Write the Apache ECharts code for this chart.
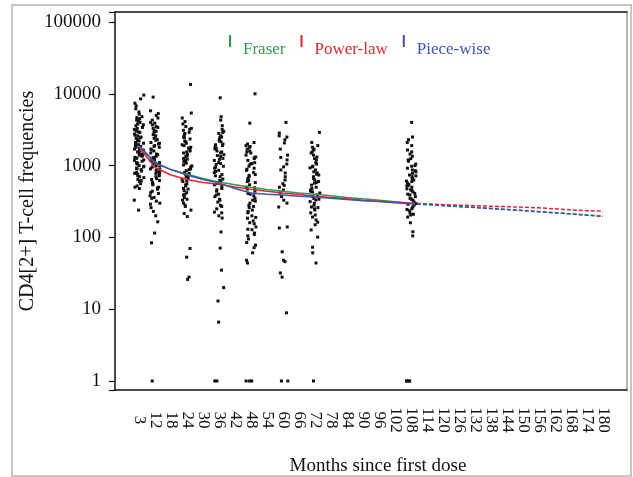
<!DOCTYPE html>
<html>
<head>
<meta charset="utf-8">
<script src="https://cdn.jsdelivr.net/npm/echarts@6/dist/echarts.min.js"></script>
<style>
  html, body { margin: 0; padding: 0; background: #fff; }
  #chart { width: 633px; height: 477px; }
</style>
</head>
<body>
<div id="chart"></div>
<script>
// x categories (months since first dose)
var months = ['3', '12', '18', '24', '30', '36', '42', '48', '54', '60', '66', '72', '78', '84', '90',
  '96', '102', '108', '114', '120', '126', '132', '138', '144', '150', '156', '162', '168', '174', '180'];
var fitMonths = months.slice(0, 18);   // 3 .. 108, solid
var projMonths = months.slice(17);     // 108 .. 180, dashed

// observed CD4[2+] frequencies per visit
var m3 = [9600, 8500, 7400, 6800, 6200, 5600, 5200, 4800, 4650, 4500, 4300, 4150, 4000, 3800, 3700, 3600, 3400,
  3300, 3200, 3050, 2950, 2900, 2750, 2650, 2600, 2500, 2450, 2400, 2300, 2250, 2200, 2100, 2050, 2000, 1950,
  1900, 1850, 1800, 1750, 1700, 1650, 1620, 1600, 1550, 1500, 1480, 1450, 1400, 1380, 1350, 1300, 1280, 1250,
  1200, 1180, 1150, 1100, 1080, 1050, 1000, 980, 960, 920, 900, 880, 840, 800, 780, 760, 720, 700, 680, 640,
  620, 600, 560, 520, 500, 480, 330, 240];
var m12 = [9000, 5800, 5300, 5000, 4600, 4300, 4000, 3900, 3700, 3500, 3400, 3300, 3100, 3000, 2900, 2700, 2600,
  2550, 2400, 2300, 2250, 2100, 2050, 2000, 1900, 1850, 1800, 1700, 1650, 1600, 1500, 1450, 1420, 1350, 1300,
  1280, 1200, 1180, 1150, 1100, 1080, 1050, 1000, 980, 950, 900, 880, 860, 820, 800, 780, 740, 720, 700, 660,
  640, 620, 580, 560, 540, 500, 490, 470, 440, 420, 410, 380, 360, 350, 320, 300, 290, 260, 230, 200, 165, 115,
  84, 1];
var m24 = [13500, 5400, 4600, 4100, 3800, 3500, 3300, 3200, 3100, 2900, 2800, 2700, 2500, 2450, 2350, 2200, 2150,
  2050, 1950, 1900, 1800, 1750, 1700, 1600, 1550, 1500, 1420, 1380, 1340, 1260, 1230, 1200, 1140, 1110, 1080,
  1020, 990, 960, 900, 880, 850, 800, 780, 760, 720, 700, 680, 640, 620, 600, 560, 540, 520, 480, 470, 450, 420,
  400, 390, 360, 340, 330, 300, 280, 270, 240, 215, 195, 70, 53, 28, 26];
var m36 = [8800, 4800, 4300, 3600, 3200, 3000, 2900, 2800, 2600, 2500, 2450, 2300, 2200, 2150, 2000, 1950, 1900,
  1800, 1750, 1700, 1600, 1550, 1500, 1420, 1380, 1340, 1260, 1220, 1180, 1100, 1070, 1040, 980, 950, 920, 860,
  830, 800, 750, 720, 700, 650, 620, 600, 560, 540, 520, 480, 460, 440, 400, 390, 370, 340, 330, 310, 280, 270,
  250, 225, 220, 200, 186, 119, 71, 35, 20, 13, 6.6, 1, 1];
var m48 = [10000, 3900, 2100, 2000, 1900, 1850, 1800, 1700, 1600, 1550, 1500, 1400, 1320, 1280, 1250, 1180, 1100,
  1070, 1040, 980, 920, 890, 860, 800, 750, 730, 700, 660, 620, 600, 580, 540, 500, 490, 470, 440, 410, 400, 380,
  350, 330, 320, 300, 280, 270, 260, 240, 230, 220, 200, 190, 185, 170, 160, 155, 140, 130, 128, 115, 110, 105,
  95, 85, 78, 72, 61, 48, 44, 1, 1, 1];
var m60 = [4000, 2840, 2600, 2500, 2290, 2070, 1700, 1400, 1300, 1200, 1050, 960, 870, 790, 700, 630, 560, 530,
  500, 457, 420, 370, 330, 300, 265, 140, 135, 63, 48, 46, 32, 28, 8.9, 1, 1];
var m72 = [2900, 2100, 1900, 1800, 1700, 1650, 1550, 1500, 1400, 1320, 1250, 1200, 1100, 1050, 980, 960, 930, 870,
  820, 790, 760, 740, 700, 660, 630, 600, 580, 570, 535, 500, 480, 457, 440, 430, 415, 390, 370, 350, 340, 332,
  315, 300, 280, 265, 260, 250, 241, 220, 205, 192, 175, 163, 150, 127, 101, 73, 61, 44, 1];
var m108 = [4000, 2500, 2300, 2100, 1900, 1650, 1550, 1450, 1350, 1250, 1200, 1150, 1050, 1000, 980, 920, 870, 850,
  820, 780, 740, 720, 700, 660, 630, 610, 600, 570, 545, 530, 520, 500, 475, 460, 450, 430, 410, 400, 390, 370,
  350, 340, 330, 310, 295, 290, 280, 265, 250, 245, 235, 220, 210, 205, 192, 160, 120, 105, 1, 1, 1, 1];

// model fits (3..108) and projections (108..180)
var fraserFit = [1850, 1080, 880, 760, 660, 590, 540, 500, 465, 440, 415, 400, 380, 360, 345, 330, 315, 300];
var powerFit = [1800, 940, 740, 640, 580, 550, 505, 470, 440, 415, 395, 375, 360, 345, 330, 318, 308, 298];
var pieceFit = [1900, 1100, 880, 740, 640, 570, 480, 415, 400, 390, 375, 365, 350, 338, 325, 315, 305, 295];
var fraserProj = [300, 290, 280, 271, 262, 253, 245, 237, 229, 221, 213, 205, 198];
var powerProj = [298, 292, 286, 281, 277, 272, 268, 263, 258, 250, 242, 236, 232];
var pieceProj = [295, 286, 277, 268, 260, 252, 244, 236, 228, 220, 212, 204, 195];

var serif = 'Liberation Serif';
var green = '#2f9a4c', red = '#e2262e', blue = '#3f52b0';

var xCats = [' '].concat(months, ['  ']);

var clusters = [['3', m3], ['12', m12], ['24', m24], ['36', m36], ['48', m48], ['60', m60], ['72', m72], ['108', m108]];
var points = [];
clusters.forEach(function (c) {
  c[1].forEach(function (v) { points.push([c[0], v]); });
});

function pairs(cats, vals) {
  return cats.map(function (m, i) { return [m, vals[i]]; });
}

function fitLine(name, color, cats, vals, dashed) {
  return {
    name: name,
    type: 'line',
    data: pairs(cats, vals),
    symbol: 'none',
    z: 5,
    lineStyle: { color: color, width: 1.5, type: dashed ? [4, 2] : 'solid' },
    itemStyle: { color: color }
  };
}

// legend mark: short bar sitting above the text middle
var barIcon = 'path://M0,0L2,0L2,12L0,12Z M0,29.9L0.1,29.9L0.1,30L0,30Z';

var chart = echarts.init(document.getElementById('chart'));

var option = {
  animation: false,
  graphic: [{
    type: 'rect',
    shape: { x: 12, y: 5, width: 619, height: 471 },
    style: { fill: 'none', stroke: '#b4b4b4', lineWidth: 1.5 },
    silent: true
  }],
  legend: {
    left: 224,
    top: 30,
    icon: barIcon,
    itemWidth: 2,
    itemHeight: 30,
    itemGap: 15,
    textStyle: { fontFamily: serif, fontSize: 17, padding: [0, 0, 0, 7] },
    data: [
      { name: 'Fraser', textStyle: { color: green } },
      { name: 'Power-law', textStyle: { color: red } },
      { name: 'Piece-wise', textStyle: { color: blue } }
    ]
  },
  grid: { left: 115, right: 6, top: 12, bottom: 87, outerBoundsMode: 'none' },
  xAxis: [{
    type: 'category',
    data: xCats,
    boundaryGap: true,
    jitter: 10,
    name: 'Months since first dose',
    nameLocation: 'middle',
    nameGap: 67,
    nameMoveOverlap: false,
    nameTextStyle: { fontFamily: serif, fontSize: 19, color: '#111', padding: [0, 0, 0, 14] },
    axisLine: { lineStyle: { color: '#111', width: 1.5 } },
    axisTick: {
      alignWithLabel: true,
      length: 6,
      lineStyle: { color: '#111', width: 1.2 },
      interval: function (i, v) { return v.trim() !== ''; }
    },
    axisLabel: {
      interval: 0,
      rotate: -90,
      align: 'center',
      verticalAlign: 'middle',
      margin: 30,
      fontFamily: serif,
      fontSize: 17,
      color: '#111'
    },
    splitLine: { show: false }
  }, {
    type: 'value',
    position: 'top',
    min: 0,
    max: 1,
    axisLine: { show: true, lineStyle: { color: '#111', width: 1.5 } },
    axisTick: { show: false },
    axisLabel: { show: false },
    splitLine: { show: false }
  }],
  yAxis: [{
    type: 'log',
    min: 0.749,
    max: 137900,
    name: 'CD4[2+] T-cell frequencies',
    nameLocation: 'middle',
    nameGap: 77,
    nameMoveOverlap: false,
    nameTextStyle: { fontFamily: serif, fontSize: 20, color: '#111' },
    axisLine: { show: true, lineStyle: { color: '#111', width: 1.5 } },
    axisTick: { show: true, length: 6, lineStyle: { color: '#111', width: 1.2 } },
    axisLabel: {
      margin: 14,
      fontFamily: serif,
      fontSize: 19,
      color: '#111',
      formatter: function (v) {
        var e = Math.log10(v);
        return Math.abs(e - Math.round(e)) < 1e-6 ? String(Math.round(v)) : '';
      }
    },
    splitLine: { show: false }
  }, {
    type: 'value',
    position: 'right',
    min: 0,
    max: 1,
    axisLine: { show: true, lineStyle: { color: '#9a9a9a', width: 1.5 } },
    axisTick: { show: false },
    axisLabel: { show: false },
    splitLine: { show: false }
  }],
  series: [
    {
      name: 'observed',
      type: 'scatter',
      data: points,
      symbol: 'rect',
      symbolSize: 3,
      z: 2,
      itemStyle: { color: '#111', opacity: 1 }
    },
    fitLine('Fraser', green, fitMonths, fraserFit, false),
    fitLine('Power-law', red, fitMonths, powerFit, false),
    fitLine('Piece-wise', blue, fitMonths, pieceFit, false),
    fitLine('Fraser', green, projMonths, fraserProj, true),
    fitLine('Power-law', red, projMonths, powerProj, true),
    fitLine('Piece-wise', blue, projMonths, pieceProj, true)
  ]
};

chart.setOption(option);
</script>
</body>
</html>
